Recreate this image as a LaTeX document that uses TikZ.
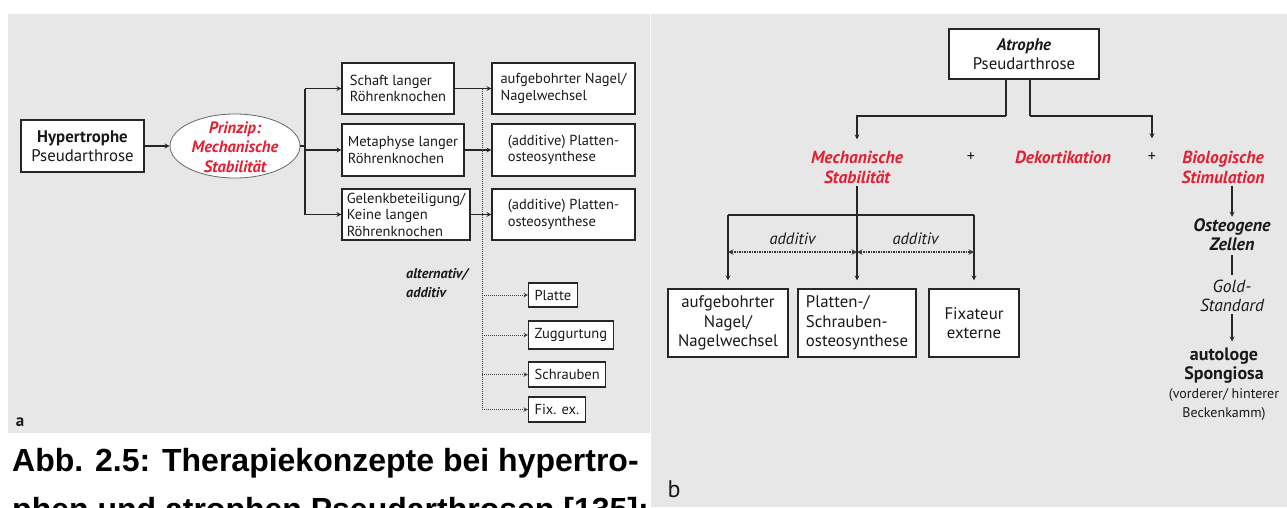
\documentclass[tikz,border=0pt]{standalone}
\usepackage{fontspec}
\setmainfont{PT Sans}
\newfontfamily\capfont{Liberation Sans}
\usetikzlibrary{shapes.geometric, arrows, positioning, calc}
\definecolor{panelgray}{RGB}{231,231,231}
\definecolor{figred}{RGB}{226,32,52}

\begin{document}
\begin{tikzpicture}[
    x=1pt, y=-1pt,
    line/.style={draw=black!85, line width=1.2pt},
    arrow/.style={line, ->, >=stealth},
    dotline/.style={draw=black!75, line width=1pt, densely dotted},
    dotarrow/.style={dotline, ->, >=stealth},
    dblarrow/.style={draw=black!80, line width=1.4pt, dash pattern=on 1.5pt off 1pt, <->, >=stealth},
    smallbox/.style={rectangle, draw=black!85, line width=1.1pt, fill=white, inner sep=3pt, text=black!90, align=left, font=\fontsize{14.5}{16.5}\selectfont},
    bigbox/.style={rectangle, draw=black!85, line width=1.1pt, fill=white, inner sep=3pt, text=black!90, align=center, font=\fontsize{16.8}{19.5}\selectfont},
    redlabel/.style={text=figred, align=center, inner sep=2pt, font=\bfseries\itshape\fontsize{17.5}{20}\selectfont},
    blacklabel/.style={text=black!90, align=center, inner sep=2pt, font=\fontsize{16}{19.5}\selectfont}
]

    \clip (0,0) rectangle (1287,507);
    \fill[panelgray] (8,14) rectangle (650,433);
    \fill[panelgray] (651,14) rectangle (1287,507);

    % panel a
    \node[bigbox, minimum width=123pt, minimum height=52pt] (hyper) at (82.5,146) {\textbf{Hypertrophe}\\Pseudarthrose};
    \node[ellipse, draw=black!60, line width=0.8pt, fill=white, minimum width=130pt, minimum height=64pt, inner sep=0pt] (prinzip) at (235,146) {};
    \node[redlabel, font=\bfseries\itshape\fontsize{16.5}{19.5}\selectfont] (prinziptext) at (235,147) {Prinzip:\\Mechanische\\Stabilität};

    \node[smallbox, minimum width=112pt, minimum height=51pt] (schaft) at (398,88.5) {Schaft langer\\Röhrenknochen};
    \node[smallbox, minimum width=122pt, minimum height=52pt] (meta) at (403,150) {Metaphyse langer\\Röhrenknochen};
    \node[smallbox, minimum width=128pt, minimum height=51pt] (gelenk) at (406,214.5) {Gelenkbeteiligung/\\Keine langen\\Röhrenknochen};

    \node[smallbox, minimum width=143pt, minimum height=51pt] (nagel) at (563.5,88.5) {aufgebohrter Nagel/\\Nagelwechsel};
    \node[smallbox, minimum width=143pt, minimum height=52pt] (platten) at (563.5,150) {(additive) Platten-\\osteosynthese};
    \node[smallbox, minimum width=143pt, minimum height=51pt] (plattenb) at (563.5,214.5) {(additive) Platten-\\osteosynthese};

    \node[smallbox, anchor=west, inner xsep=6pt, minimum height=24pt] (platte) at (528,295) {Platte};
    \node[smallbox, anchor=west, inner xsep=6pt, minimum height=28pt] (zugg) at (528,335) {Zuggurtung};
    \node[smallbox, anchor=west, inner xsep=6pt, minimum height=25pt] (schrauben) at (528,374.5) {Schrauben};
    \node[smallbox, anchor=west, inner xsep=6pt, minimum height=25pt] (fixex) at (528,409.5) {Fix. ex.};

    \node[blacklabel, anchor=west, align=left, font=\bfseries\itshape\fontsize{14.2}{19}\selectfont] (altadd) at (404,283) {alternativ/\\additiv};
    \node[blacklabel, font=\bfseries\fontsize{17}{19}\selectfont] (labela) at (20,422) {a};

    \coordinate (trunk) at (305,146);
    \coordinate (dtop) at (482,88.5);

    \draw[arrow] (hyper.east) -- (prinzip.west);
    \draw[line] (prinzip.east) -- (trunk);
    \draw[line] (trunk |- schaft.west) -- (trunk |- gelenk.west);
    \draw[arrow] (trunk |- schaft.west) -- (schaft.west);
    \draw[arrow] (trunk |- meta.west) -- (meta.west);
    \draw[arrow] (trunk |- gelenk.west) -- (gelenk.west);
    \draw[arrow] (schaft.east) -- (nagel.west);
    \draw[arrow] (meta.east) -- (platten.west);
    \draw[arrow] (gelenk.east) -- (plattenb.west);

    \draw[dotline] (dtop) -- (dtop |- fixex.west);
    \draw[dotarrow] (dtop |- platte.west) -- (platte.west);
    \draw[dotarrow] (dtop |- zugg.west) -- (zugg.west);
    \draw[dotarrow] (dtop |- schrauben.west) -- (schrauben.west);
    \draw[dotarrow] (dtop |- fixex.west) -- (fixex.west);

    % panel b
    \node[bigbox, minimum width=150pt, minimum height=50pt] (atrophe) at (1024,54) {\textbf{\textit{Atrophe}}\\Pseudarthrose};

    \node[redlabel] (mech) at (857,167) {Mechanische\\Stabilität};
    \node[blacklabel] (plusa) at (971,157) {+};
    \node[redlabel] (dekort) at (1063,157) {Dekortikation};
    \node[blacklabel] (plusb) at (1152,157) {+};
    \node[redlabel] (biol) at (1223,167) {Biologische\\Stimulation};

    \node[blacklabel, font=\bfseries\itshape\fontsize{18}{19}\selectfont] (osteo) at (1232,235) {Osteogene\\Zellen};
    \node[blacklabel, font=\itshape\fontsize{17.5}{19}\selectfont] (gold) at (1232,296) {Gold-\\Standard};
    \node[blacklabel, font=\fontsize{14}{19}\selectfont] (auto) at (1224,384) {{\bfseries\fontsize{18}{19}\selectfont autologe}\\{\bfseries\fontsize{18}{19}\selectfont Spongiosa}\\(vorderer/ hinterer\\Beckenkamm)};

    \node[bigbox, minimum width=120pt, minimum height=68pt] (aufgeb) at (728,323) {aufgebohrter\\Nagel/\\Nagelwechsel};
    \node[bigbox, align=left, minimum width=118pt, minimum height=68pt] (schraubenost) at (857,323) {Platten-/\\Schrauben-\\osteosynthese};
    \node[bigbox, minimum width=90pt, minimum height=68pt] (fixateur) at (974,323) {Fixateur\\externe};

    \node[blacklabel, font=\fontsize{24}{24}\selectfont] (labelb) at (674,489) {b};

    \coordinate (splitl) at (1006,116);
    \coordinate (splitr) at (1030,116);
    \coordinate (mechsplit) at (857,215);
    \coordinate (addrow) at (0,252);

    \draw[line] (atrophe.south -| splitl) -- (splitl);
    \draw[arrow, shorten >=9pt] (splitl) -| (mech.north);
    \draw[line] (atrophe.south -| splitr) -- (splitr);
    \draw[arrow, shorten >=12pt] (splitr) -| (plusb.north);

    \draw[line] (mech.south) -- (mechsplit);
    \draw[line] (aufgeb.north |- mechsplit) -- (fixateur.north |- mechsplit);
    \draw[arrow, shorten >=8pt] (aufgeb.north |- mechsplit) -- (aufgeb.north);
    \draw[arrow, shorten >=8pt] (mechsplit) -- (schraubenost.north);
    \draw[arrow, shorten >=8pt] (fixateur.north |- mechsplit) -- (fixateur.north);

    \draw[dblarrow] (aufgeb.north |- addrow) -- node[above=5pt, blacklabel, font=\itshape\fontsize{16.5}{19.5}\selectfont] {additiv} (schraubenost.north |- addrow);
    \draw[dblarrow] (schraubenost.north |- addrow) -- node[above=5pt, blacklabel, font=\itshape\fontsize{16.5}{19.5}\selectfont] {additiv} (fixateur.north |- addrow);

    \draw[arrow] (biol.south -| osteo) -- (osteo.north);
    \draw[line, shorten <=2pt, shorten >=3pt] (osteo.south) -- (gold.north);
    \draw[arrow, shorten >=4pt] (gold.south) -- (auto.north -| gold);

    % caption
    \node[anchor=base west, inner sep=0pt, font=\capfont\bfseries\fontsize{32}{38}\selectfont] (capa) at (12,471) {Abb. 2.5: Therapiekonzepte bei hypertro-};
    \node[anchor=base west, inner sep=0pt, font=\capfont\bfseries\fontsize{32}{38}\selectfont] (capb) at (12,520) {phen und atrophen Pseudarthrosen [135]:};

\end{tikzpicture}
\end{document}
